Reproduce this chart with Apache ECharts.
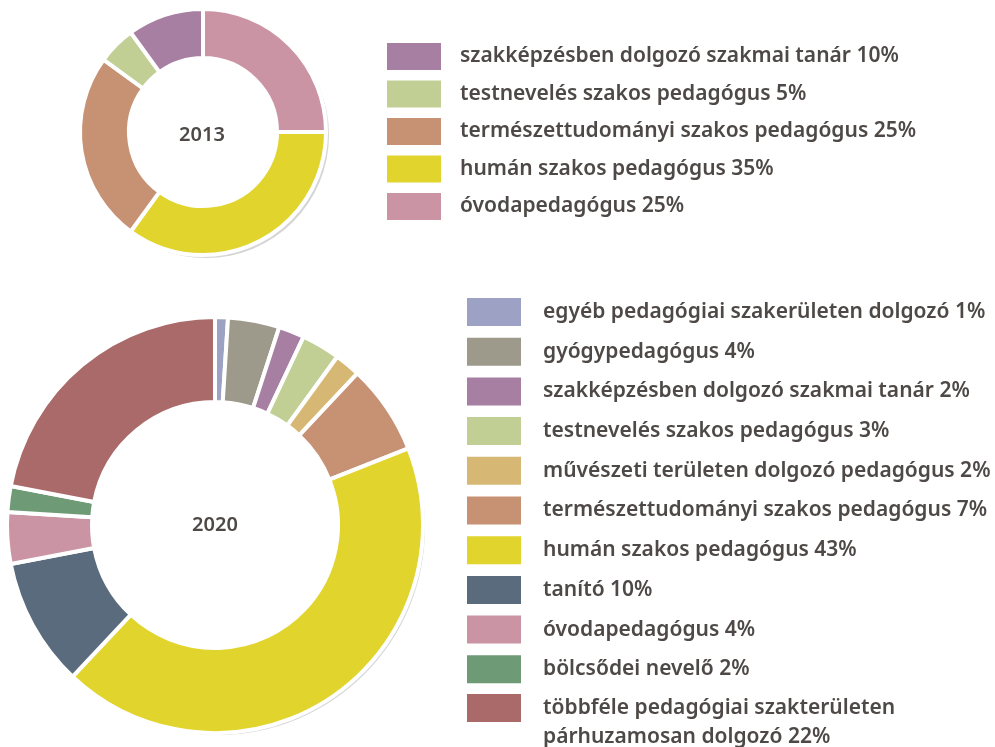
<!DOCTYPE html>
<html>
<head>
<meta charset="utf-8">
<script src="https://cdn.jsdelivr.net/npm/echarts@6/dist/echarts.min.js"></script>
<style>
  html, body { margin: 0; padding: 0; background: #fff; }
  #chart { width: 995px; height: 747px; }
</style>
</head>
<body>
<div id="chart"></div>
<script>
  // 2013 – clockwise from 12 o'clock
  var names2013 = ['óvodapedagógus', 'humán szakos pedagógus', 'természettudományi szakos pedagógus',
    'testnevelés szakos pedagógus', 'szakképzésben dolgozó szakmai tanár']
  var values2013 = [25, 35, 25, 5, 10]
  var legend2013 = ['szakképzésben dolgozó szakmai tanár', 'testnevelés szakos pedagógus',
    'természettudományi szakos pedagógus', 'humán szakos pedagógus', 'óvodapedagógus']

  // 2020 – clockwise from 12 o'clock
  var names2020 = ['egyéb pedagógiai szakerületen dolgozó', 'gyógypedagógus', 'szakképzésben dolgozó szakmai tanár',
    'testnevelés szakos pedagógus', 'művészeti területen dolgozó pedagógus', 'természettudományi szakos pedagógus',
    'humán szakos pedagógus', 'tanító', 'óvodapedagógus', 'bölcsődei nevelő',
    'többféle pedagógiai szakterületen\npárhuzamosan dolgozó']
  var values2020 = [1, 4, 2, 3, 2, 7, 43, 10, 4, 2, 22]

  var colors = {
    'szakképzésben dolgozó szakmai tanár': '#a67fa3',
    'testnevelés szakos pedagógus': '#c1cf95',
    'természettudományi szakos pedagógus': '#c79274',
    'humán szakos pedagógus': '#e1d42c',
    'óvodapedagógus': '#ca94a4',
    'egyéb pedagógiai szakerületen dolgozó': '#9da1c3',
    'gyógypedagógus': '#9d9a8c',
    'művészeti területen dolgozó pedagógus': '#d6b874',
    'tanító': '#5a6b7e',
    'bölcsődei nevelő': '#6e9a75',
    'többféle pedagógiai szakterületen\npárhuzamosan dolgozó': '#a96a69'
  }

  var textColor = '#4e4946'
  var font = 'Noto Sans'

  function pieData(names, values) {
    return names.map(function (n, i) {
      return { name: n, value: values[i], itemStyle: { color: colors[n] } }
    })
  }

  function lookup(names, values) {
    var m = {}
    names.forEach(function (n, i) { m[n] = values[i] })
    return m
  }
  var pct2013 = lookup(names2013, values2013)
  var pct2020 = lookup(names2020, values2020)

  var legendText = {
    color: textColor,
    fontSize: 21,
    fontWeight: 600,
    fontFamily: font,
    lineHeight: 22
  }

  // last 2020 item has two lines, it gets its own legend block
  var lastName = names2020[names2020.length - 1]

  function legendBase(opts) {
    return Object.assign({
      orient: 'vertical', padding: 0, height: 600, icon: 'rect',
      itemStyle: { borderWidth: 0 },
      selectedMode: false
    }, opts)
  }

  var chart = echarts.init(document.getElementById('chart'))
  chart.setOption({
    animation: false,
    title: [
      { text: '2013', left: 202, top: 135, textAlign: 'center', textVerticalAlign: 'middle', padding: 0,
        textStyle: { color: textColor, fontSize: 20, fontWeight: 600, fontFamily: font } },
      { text: '2020', left: 215, top: 525, textAlign: 'center', textVerticalAlign: 'middle', padding: 0,
        textStyle: { color: textColor, fontSize: 20, fontWeight: 600, fontFamily: font } }
    ],
    legend: [
      legendBase({
        left: 387, top: 43,
        itemWidth: 54, itemHeight: 27, itemGap: 10.5,
        data: legend2013,
        formatter: function (n) { return n + ' ' + pct2013[n] + '%' },
        textStyle: Object.assign({ padding: [0, 0, 0, 14] }, legendText)
      }),
      legendBase({
        left: 467, top: 298,
        itemWidth: 54, itemHeight: 28, itemGap: 11.7,
        data: names2020.slice(0, -1),
        formatter: function (n) { return n + ' ' + pct2020[n] + '%' },
        textStyle: Object.assign({ padding: [0, 0, 0, 17] }, legendText)
      }),
      legendBase({
        left: 467, top: 664.5,
        itemWidth: 54, itemHeight: 28, itemGap: 0,
        data: [lastName],
        // empty first line keeps the first text line level with the box
        formatter: function (n) { return '\n' + n + ' ' + pct2020[n] + '%' },
        textStyle: Object.assign({}, legendText, { lineHeight: 29, padding: [0, 0, 0, 17] })
      })
    ],
    series: [
      // drop shadows
      {
        type: 'pie', silent: true, center: [206, 135], radius: [95, 123],
        label: { show: false }, labelLine: { show: false },
        data: [{ name: 'shadow2013', value: 1, itemStyle: { color: '#d5d5d5' } }]
      },
      {
        type: 'pie', silent: true, center: [218, 528], radius: [150, 207],
        label: { show: false }, labelLine: { show: false },
        data: [{ name: 'shadow2020', value: 1, itemStyle: { color: '#d5d5d5' } }]
      },
      {
        type: 'pie', name: '2013', center: [203, 132], radius: [74, 123],
        startAngle: 90, clockwise: true, avoidLabelOverlap: false,
        itemStyle: { borderColor: '#fff', borderWidth: 4 },
        label: { show: false }, labelLine: { show: false },
        emphasis: { disabled: true },
        data: pieData(names2013, values2013)
      },
      {
        type: 'pie', name: '2020', center: [215, 525], radius: [123, 208],
        startAngle: 90, clockwise: true, avoidLabelOverlap: false,
        itemStyle: { borderColor: '#fff', borderWidth: 4 },
        label: { show: false }, labelLine: { show: false },
        emphasis: { disabled: true },
        data: pieData(names2020, values2020)
      }
    ]
  })
</script>
</body>
</html>
